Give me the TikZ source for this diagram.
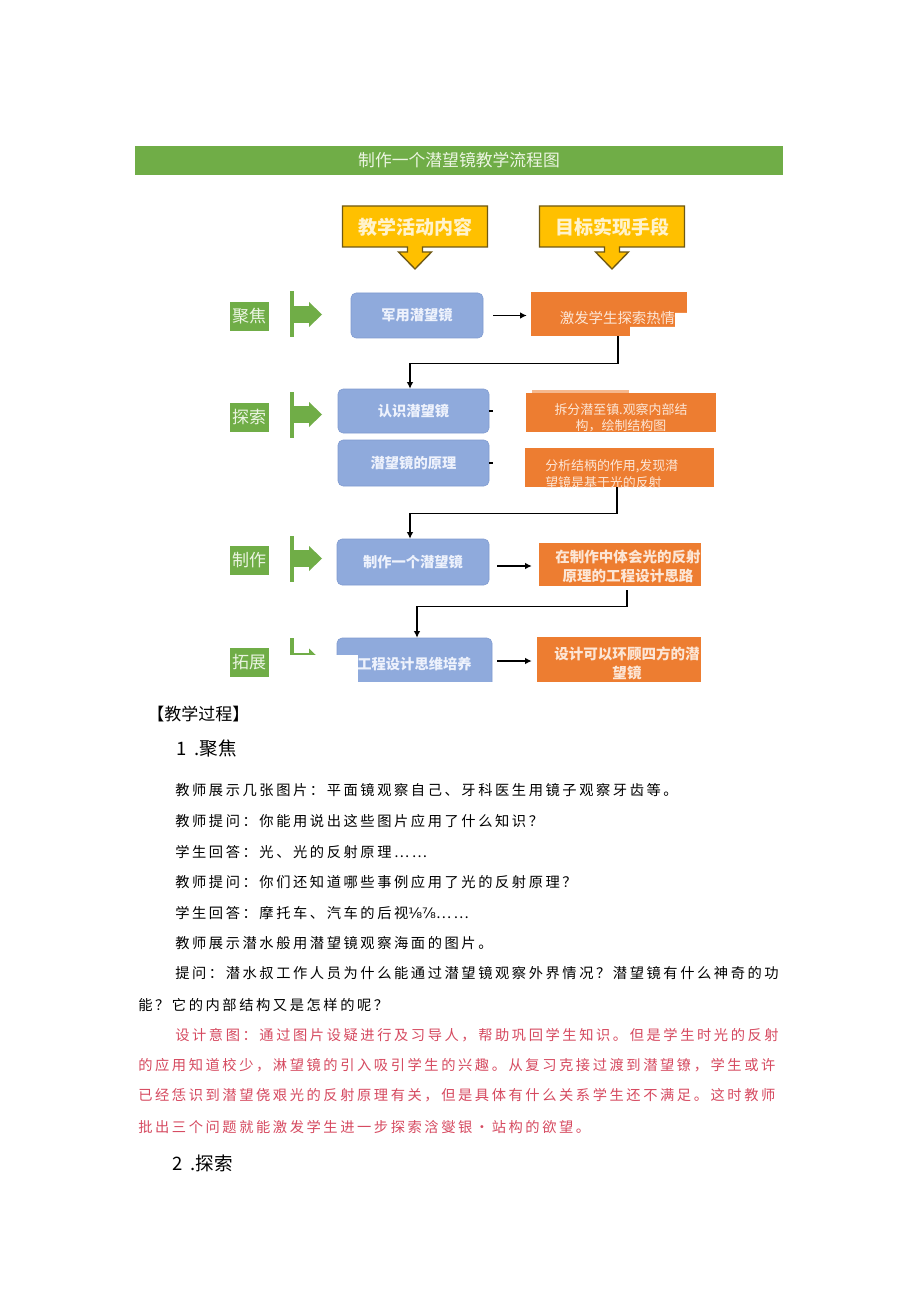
\documentclass[tikz,border=0pt]{standalone}
\usepackage{fontspec}
\usepackage{tikz}
\usetikzlibrary{arrows.meta}
\setmainfont{Noto Sans CJK SC}
\newfontfamily\bodyfont[LetterSpace=18]{Noto Sans CJK SC}
\newfontfamily\fracfont{DejaVu Sans}

\definecolor{barGreen}{RGB}{112,173,71}
\definecolor{paleGreen}{RGB}{236,245,226}
\definecolor{hdrYellow}{RGB}{255,192,0}
\definecolor{hdrEdge}{RGB}{110,88,20}
\definecolor{paleYellow}{RGB}{255,243,205}
\definecolor{actBlue}{RGB}{143,170,220}
\definecolor{actEdge}{RGB}{128,155,208}
\definecolor{paleBlue}{RGB}{238,242,252}
\definecolor{goalOrange}{RGB}{237,125,49}
\definecolor{paleOrange}{RGB}{252,230,214}
\definecolor{noteRed}{RGB}{214,74,96}

\tikzset{
  titlebar/.style={fill=barGreen, inner sep=0pt, text=paleGreen,
    font=\fontsize{12.6pt}{14pt}\selectfont},
  hdrshape/.style={fill=hdrYellow, draw=hdrEdge, line width=1pt},
  hdrtext/.style={text=paleYellow, inner sep=0pt,
    font=\fontsize{14.25pt}{16pt}\selectfont\bfseries},
  stagebox/.style={fill=barGreen, inner sep=0pt, minimum width=29.25pt,
    minimum height=21.75pt, text=paleGreen, font=\fontsize{12.75pt}{14pt}\selectfont},
  actbox/.style={fill=actBlue, draw=actEdge, line width=0.4pt, rounded corners=3.75pt,
    inner sep=0pt, text=paleBlue, font=\fontsize{10.7pt}{12pt}\selectfont\bfseries},
  goalbox/.style={fill=goalOrange, inner sep=0pt},
  goaltext/.style={text=paleOrange, inner sep=0pt, align=center},
  flow/.style={line width=1.1pt, -{Latex[length=5pt,width=5pt]}},
  headtext/.style={anchor=west, inner sep=0pt},
  bodytext/.style={anchor=west, inner sep=0pt,
    font=\bodyfont\fontsize{10.7pt}{12pt}\selectfont},
}

\begin{document}
\begin{tikzpicture}[x=0.75pt,y=-0.75pt]
  % page
  \fill[white] (0,0) rectangle (920,1301);
  \useasboundingbox (0,0) rectangle (920,1301);

  % title bar
  \node[titlebar, minimum width=486pt, minimum height=21.75pt] (title) at (459,160.5) {制作一个潜望镜教学流程图};

  % column headers with down arrows
  \foreach \cx/\txt/\nm in {415/教学活动内容/hdrA, 612/目标实现手段/hdrB}{
    \filldraw[hdrshape] (\cx-72.5,206) -- (\cx+72.5,206) -- (\cx+72.5,247) -- (\cx+7.5,247)
      -- (\cx+7.5,252) -- (\cx+16.5,252) -- (\cx,269) -- (\cx-16.5,252) -- (\cx-7.5,252)
      -- (\cx-7.5,247) -- (\cx-72.5,247) -- cycle;
    \node[hdrtext] (\nm) at (\cx,227) {\txt};
  }

  % stage labels and green arrows
  \foreach \yl/\ya/\txt/\nm in {316.5/314.5/聚焦/stageA, 417/414.5/探索/stageB,
                                 560.5/558.5/制作/stageC, 662.5/661/拓展/stageD}{
    \node[stagebox] (\nm) at (249,\yl) {\txt};
    \fill[barGreen] (290,\ya-23) rectangle (294,\ya+23);
    \fill[barGreen] (294,\ya-8.5) rectangle (310,\ya+8.5);
    \fill[barGreen] (309,\ya-12.5) -- (322,\ya) -- (309,\ya+12.5) -- cycle;
  }

  % activities
  \node[actbox, minimum width=99pt, minimum height=33.75pt] (actA) at (417,315.5) {军用潜望镜};
  \node[actbox, minimum width=113.25pt, minimum height=33pt] (actB) at (413.5,411) {认识潜望镜};
  \node[actbox, minimum width=113.25pt, minimum height=34.5pt] (actC) at (413.5,463) {潜望镜的原理};
  \node[actbox, minimum width=114pt, minimum height=34.5pt] (actD) at (413,562) {制作一个潜望镜};
  \node[actbox, minimum width=116.25pt, minimum height=39pt] (actE) at (414.5,664) {工程设计思维培养};

  % goals
  \node[goalbox, minimum width=117pt, minimum height=33pt] (goalA) at (609,314) {};
  \node[goaltext, font=\fontsize{10.8pt}{12pt}\selectfont] (goalAtxt) at (617.5,318) {激发学生探索热情};
  \fill[white] (675,313) -- (688,313) -- (688,337) -- (630,337) -- (630,327) -- (675,327) -- cycle;

  \fill[goalOrange!55!white] (532,390) rectangle (629,393);
  \node[goalbox, minimum width=142.5pt, minimum height=29.25pt] (goalB) at (621,412.5) {};
  \begin{scope}
    \clip (goalB.south west) rectangle (goalB.north east);
    \node[goaltext, font=\fontsize{9.7pt}{12pt}\selectfont] (goalBtxt) at (621,417.5)
      {拆分潜至镇.观察内部结\\构，绘制结构图};
  \end{scope}

  \node[goalbox, minimum width=141.75pt, minimum height=29.25pt] (goalC) at (619.5,467.5) {};
  \begin{scope}
    \clip (goalC.south west) rectangle (goalC.north east);
    \node[goaltext, align=left, anchor=west, font=\fontsize{9.7pt}{12.75pt}\selectfont] (goalCtxt)
      at (545,474) {分析结柄的作用,发现潸\\望镜是基于光的反射};
  \end{scope}

  \node[goalbox, minimum width=121.5pt, minimum height=32.25pt] (goalD) at (620,564.5) {};
  \begin{scope}
    \clip (goalD.south west) rectangle (goalD.north east);
    \node[goaltext, font=\fontsize{10.9pt}{14.25pt}\selectfont\bfseries] (goalDtxt)
      at (628,566.5) {在制作中体会光的反射\\原理的工程设计思路};
  \end{scope}

  \node[goalbox, minimum width=123pt, minimum height=37.5pt] (goalE) at (619,662) {};
  \begin{scope}
    \clip (goalE.south west) rectangle (goalE.north east);
    \node[goaltext, font=\fontsize{10.9pt}{14.25pt}\selectfont\bfseries] (goalEtxt)
      at (627,663.5) {设计可以环顾四方的潜\\望镜};
  \end{scope}

  % arrows between columns
  \draw[flow] ([xshift=7.5pt]actA.east) -- ([xshift=-3pt]actA.east -| goalA.west);
  \draw[line width=1.1pt] (actB.east) -- ++(4,0);
  \draw[line width=1.1pt] (actC.east) -- ++(4,0);
  \draw[flow] ([xshift=6pt,yshift=-3pt]actD.east) -- ([xshift=-5.25pt,yshift=-3pt]actD.east -| goalD.west);
  \draw[flow] ([xshift=3.75pt,yshift=2.25pt]actE.east) -- ([xshift=-3.75pt,yshift=2.25pt]actE.east -| goalE.west);

  % elbow connectors to the next stage
  \draw[flow] ([xshift=6.75pt]goalA.south) -- ++(0,27) -| ([xshift=-2.625pt]actB.north);
  \draw[flow] ([xshift=-1.875pt]goalC.south) -- ++(0,26) -| ([xshift=-2.25pt]actD.north);
  \draw[flow] ([xshift=5.25pt,yshift=-3pt]goalD.south) -- ++(0,16) -| ([xshift=1.875pt]actE.north);

  % cut edges of the chart picture
  \fill[white] (290,655) rectangle (358,683);
  \fill[white] (280,682) rectangle (720,692);

  % teaching process
  \node[headtext, font=\fontsize{12.75pt}{14pt}\selectfont] (procHead) at (147,714) {【教学过程】};
  \node[headtext, font=\fontsize{13.9pt}{16pt}\selectfont] (secA) at (176,748) {1\hspace{6pt}.聚焦};

  \node[bodytext] (lineA) at (175,790) {教师展示几张图片：平面镜观察自己、牙科医生用镜子观察牙齿等。};
  \node[bodytext] (lineB) at (175,821) {教师提问：你能用说出这些图片应用了什么知识？};
  \node[bodytext] (lineC) at (175,852) {学生回答：光、光的反射原理……};
  \node[bodytext] (lineD) at (175,882) {教师提问：你们还知道哪些事例应用了光的反射原理？};
  \node[bodytext] (lineE) at (175,913) {学生回答：摩托车、汽车的后视{\fracfont ⅛⅞}……};
  \node[bodytext] (lineF) at (175,943) {教师展示潜水般用潜望镜观察海面的图片。};
  \node[bodytext] (lineG) at (175,973) {提问：潜水叔工作人员为什么能通过潜望镜观察外界情况？潜望镜有什么神奇的功};
  \node[bodytext] (lineH) at (138,1005) {能？它的内部结构又是怎样的呢？};

  % design note in red
  \node[bodytext, text=noteRed] (noteA) at (175,1035) {设计意图：通过图片设疑进行及习导人，帮助巩回学生知识。但是学生时光的反射};
  \node[bodytext, text=noteRed] (noteB) at (138,1065) {的应用知道校少，淋望镜的引入吸引学生的兴趣。从复习克接过渡到潜望镣，学生或许};
  \node[bodytext, text=noteRed] (noteC) at (138,1095) {已经恁识到潜望侥艰光的反射原理有关，但是具体有什么关系学生还不满足。这时教师};
  \node[bodytext, text=noteRed] (noteD) at (138,1127) {批出三个问题就能激发学生进一步探索浛燮银•站构的欲望。};

  \node[headtext, font=\fontsize{13.9pt}{16pt}\selectfont] (secB) at (172,1163) {2\hspace{6pt}.探索};
\end{tikzpicture}
\end{document}
